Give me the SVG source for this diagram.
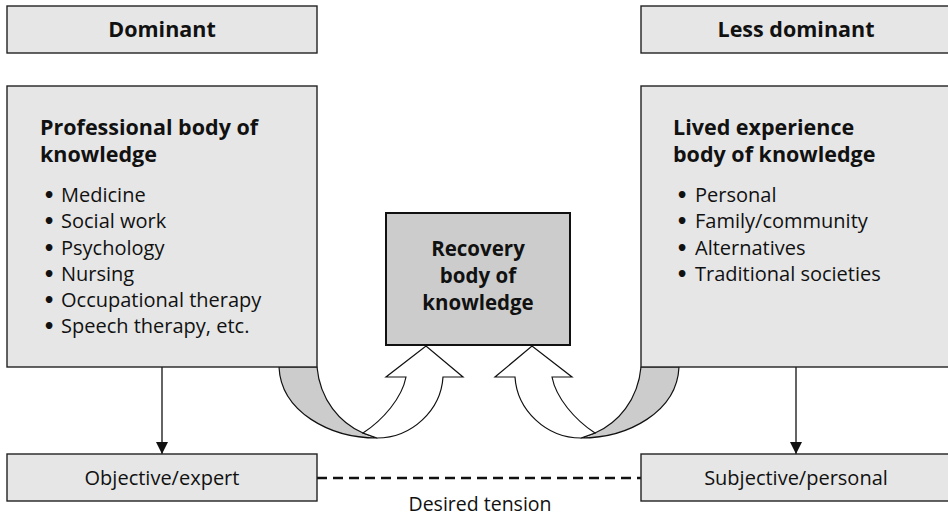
<svg xmlns="http://www.w3.org/2000/svg" width="948" height="519" viewBox="0 0 948 519">
<defs>
<style>
.box{fill:#e6e6e6;stroke:#222;stroke-width:1.4}
.center{fill:#cccccc;stroke:#111;stroke-width:2}
.t{font-family:"Open Sans","Noto Sans",sans-serif;fill:#111}
.h{font-size:21.5px;font-weight:bold}
.b{font-size:20px}
.dot{font-family:"DejaVu Sans",sans-serif;font-size:19px;font-weight:bold;fill:#111}
.band{fill:#cccccc;stroke:#111;stroke-width:1.2;stroke-linejoin:round}
.face{fill:#ffffff;stroke:#111;stroke-width:1.2;stroke-linejoin:miter}
.line{stroke:#111;stroke-width:1.3;fill:none}
</style>
<marker id="ah" viewBox="0 0 12 12" refX="12" refY="6" markerWidth="12" markerHeight="12" markerUnits="userSpaceOnUse" orient="auto">
<path d="M0,0 L12,6 L0,12 Z" fill="#111"/>
</marker>
<g id="ribbon">
<path class="band" d="M279,367 C281,412 330,438 377,438 L363,433 C340,423 320,400 317,367 Z"/>
<path class="face" d="M363,433 C383,420 402,398 406,377 L386,377 L426,346 L463,377 L443,377 C441,410 412,438 377,438 Z"/>
</g>
</defs>

<g id="dominant">
<rect class="box" x="7" y="6" width="310" height="47"/>
<text class="t h" x="162" y="37" text-anchor="middle">Dominant</text>
</g>
<g id="less-dominant">
<rect class="box" x="641" y="6" width="310" height="47"/>
<text class="t h" x="796" y="37" text-anchor="middle">Less dominant</text>
</g>

<g id="connectors">
<use href="#ribbon"/>
<use href="#ribbon" transform="translate(958,0) scale(-1,1)"/>
<line class="line" x1="162" y1="367" x2="162" y2="454" marker-end="url(#ah)"/>
<line class="line" x1="796" y1="367" x2="796" y2="454" marker-end="url(#ah)"/>
<line x1="317" y1="478" x2="641" y2="478" stroke="#111" stroke-width="2.5" stroke-dasharray="10,6"/>
</g>

<g id="professional">
<rect class="box" x="7" y="86" width="310" height="281"/>
<text class="t h"><tspan x="40" y="135">Professional body of</tspan><tspan x="40" y="162">knowledge</tspan></text>
<g class="dot">
<text x="43" y="202">•</text><text x="43" y="228">•</text><text x="43" y="255">•</text><text x="43" y="281">•</text><text x="43" y="307">•</text><text x="43" y="333">•</text>
</g>
<g class="t b">
<text x="61" y="202">Medicine</text>
<text x="61" y="228">Social work</text>
<text x="61" y="255">Psychology</text>
<text x="61" y="281">Nursing</text>
<text x="61" y="307">Occupational therapy</text>
<text x="61" y="333">Speech therapy, etc.</text>
</g>
</g>

<g id="lived">
<rect class="box" x="641" y="86" width="310" height="281"/>
<text class="t h"><tspan x="673" y="135">Lived experience</tspan><tspan x="673" y="162">body of knowledge</tspan></text>
<g class="dot">
<text x="676" y="202">•</text><text x="676" y="228">•</text><text x="676" y="255">•</text><text x="676" y="281">•</text>
</g>
<g class="t b">
<text x="695" y="202">Personal</text>
<text x="695" y="228">Family/community</text>
<text x="695" y="255">Alternatives</text>
<text x="695" y="281">Traditional societies</text>
</g>
</g>

<g id="recovery">
<rect class="center" x="386" y="213" width="184" height="132"/>
<text class="t" font-size="20.5" font-weight="bold" text-anchor="middle"><tspan x="478" y="256">Recovery</tspan><tspan x="478" y="283">body of</tspan><tspan x="478" y="310">knowledge</tspan></text>
</g>

<g id="objective">
<rect class="box" x="7" y="454" width="310" height="47"/>
<text class="t b" x="162" y="485" text-anchor="middle">Objective/expert</text>
</g>
<g id="subjective">
<rect class="box" x="641" y="454" width="310" height="47"/>
<text class="t b" x="796" y="485" text-anchor="middle">Subjective/personal</text>
</g>

<text id="tension" class="t" font-size="19.5" x="480" y="511" text-anchor="middle">Desired tension</text>
</svg>
